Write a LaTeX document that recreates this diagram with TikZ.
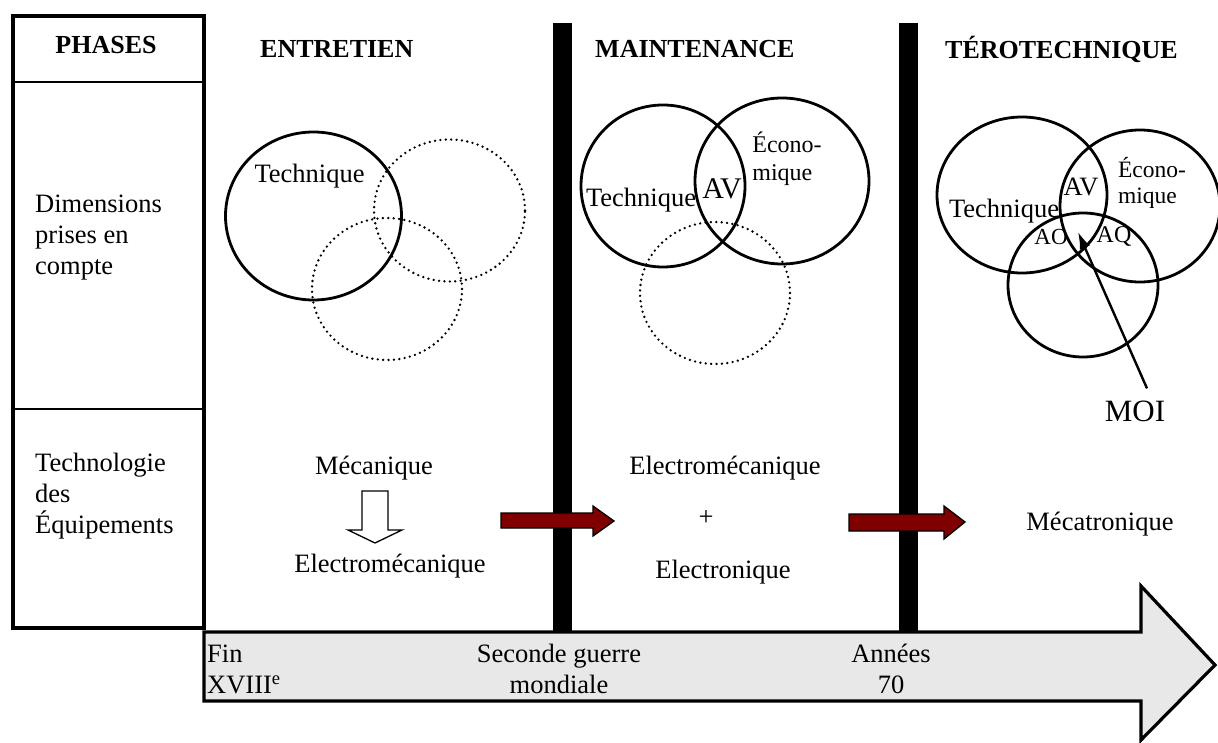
\documentclass[tikz,border=0pt]{standalone}
\usepackage{fontspec}
\setmainfont{Liberation Serif}
\usetikzlibrary{calc, arrows.meta}
\definecolor{bordeaux}{RGB}{128,0,0}
\definecolor{frise}{RGB}{232,232,232}
\tikzset{
	txt/.style={inner sep=0pt, font=\fontsize{26.5}{31}\selectfont},
	titre/.style={inner sep=0pt, font=\bfseries\fontsize{26}{30}\selectfont},
	venn/.style={draw, line width=2.8pt},
	venndot/.style={draw, line width=2.6pt, line cap=round, dash pattern=on 0pt off 5.4pt},
	bloc/.style={draw, line width=1.3pt},
}

\begin{document}
\begin{tikzpicture}[x=1pt, y=-1pt]
	\useasboundingbox (0,0) rectangle (1218,743);
	% colonne des phases
	\draw[line width=3.5pt] (13,16) rectangle (204,628);
	\draw[line width=1.8pt] (13,82) -- (204,82) (13,409) -- (204,409);
	\node[titre] (phases) at (106,45) {PHASES};
	\node[txt, align=left, anchor=west] (dimensions) at (35,238) {Dimensions\\prises en\\compte};
	\node[txt, align=left, anchor=west] (technologie) at (35,496) {Technologie\\des\\\'Equipements};
	% barres
	\fill (553,23) rectangle (572,632);
	\fill (899,23) rectangle (918,632);
	% titres
	\node[titre, anchor=west] (entretien) at (260,49) {ENTRETIEN};
	\node[titre, anchor=west] (maintenance) at (595,49) {MAINTENANCE};
	\node[titre, anchor=west] (tero) at (945,49) {T\'EROTECHNIQUE};
	% entretien
	\draw[venn] (313.5,216) ellipse [x radius=88pt, y radius=84pt];
	\draw[venndot] (449.5,210.5) ellipse [x radius=75.5pt, y radius=71pt];
	\draw[venndot] (387,289) ellipse [x radius=75pt, y radius=71pt];
	\node[txt] (tech1) at (309.5,176) {Technique};
	% maintenance
	\draw[venn] (663,186) ellipse [x radius=82pt, y radius=81pt];
	\draw[venn] (782,181) ellipse [x radius=87pt, y radius=83pt];
	\draw[venndot] (715,293) ellipse [x radius=75pt, y radius=71pt];
	\node[txt] (tech2) at (641,200) {Technique};
	\node[txt, font=\fontsize{30}{34}\selectfont] (av2) at (722,189) {AV};
	\node[txt, align=left, font=\fontsize{24}{28}\selectfont] (eco2) at (787,159) {\'Econo-\\mique};
	% terotechnique
	\draw[venn] (1022,195) ellipse [x radius=85pt, y radius=78pt];
	\draw[venn] (1140,206) ellipse [x radius=80pt, y radius=76pt];
	\draw[venn] (1083,285) ellipse [x radius=75pt, y radius=72pt];
	\node[txt] (tech3) at (1004,211) {Technique};
	\node[txt] (av3) at (1081,187) {AV};
	\node[txt, align=left, font=\fontsize{23.5}{26}\selectfont] (eco3) at (1152,183) {\'Econo-\\mique};
	\node[txt, font=\fontsize{23}{26}\selectfont] (ao) at (1051,237) {AO};
	\node[txt, font=\fontsize{24}{26}\selectfont] (aq) at (1114,237) {AQ};
	\node[txt, font=\fontsize{31}{34}\selectfont] (moi) at (1135,411) {MOI};
	\coordinate (pointe) at (1078,232);
	\draw[line width=2.4pt, -{Latex[length=17pt, width=11pt]}] ([shift={(12pt,12pt)}]moi.north) -- (pointe);
	% technologies
	\node[txt] (meca) at (374,468) {M\'ecanique};
	\draw[bloc, fill=white] (362,491) -- (388,491) -- (388,530) -- (402,530) -- (375,543)
		-- (348,530) -- (362,530) -- cycle;
	\node[txt] (electromeca) at (390,566) {Electrom\'ecanique};
	\node[txt] (electromeca2) at (725,468) {Electrom\'ecanique};
	\node[txt] (plus) at (706,518) {+};
	\node[txt] (electronique) at (723,572) {Electronique};
	\node[txt] (mecatronique) at (1100,524) {M\'ecatronique};
	% fleches rouges
	\draw[bloc, fill=bordeaux] (501,513) -- (593,513) -- (593,506) -- (614,521) -- (593,536)
		-- (593,528) -- (501,528) -- cycle;
	\draw[bloc, fill=bordeaux] (849,514) -- (944,514) -- (944,506) -- (965,522) -- (944,539)
		-- (944,531) -- (849,531) -- cycle;
	% frise
	\draw[line width=3.2pt, fill=frise, line join=miter] (204,632) -- (1141,632) -- (1141,586) -- (1215,665)
		-- (1141,740) -- (1141,701) -- (204,701) -- cycle;
	\node[txt, align=left, anchor=west] (fin) at (207,669) {Fin\\XVIII\textsuperscript{e}};
	\node[txt, align=center] (guerre) at (559,669) {Seconde guerre\\mondiale};
	\node[txt, align=center] (annees) at (891,669) {Ann\'ees\\70};
\end{tikzpicture}
\end{document}
